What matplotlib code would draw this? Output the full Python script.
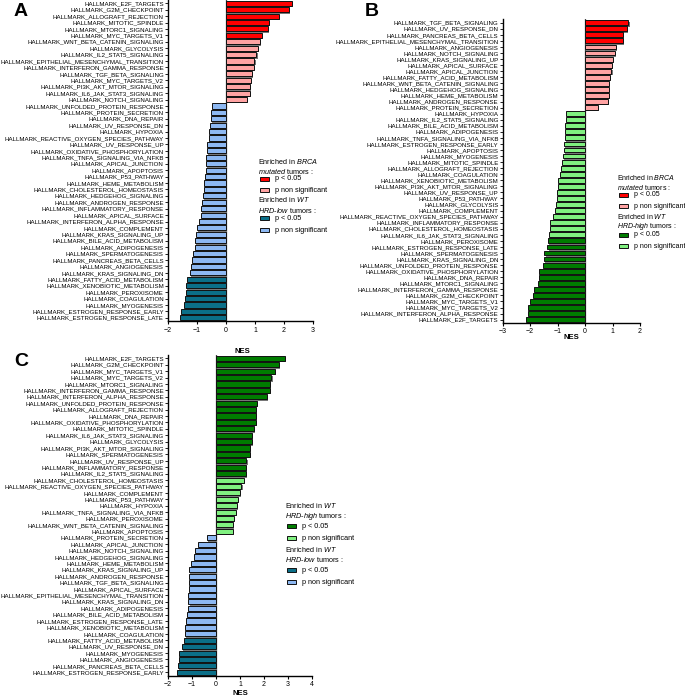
import matplotlib
matplotlib.use("Agg")
import matplotlib.pyplot as plt
import matplotlib.patheffects as pe
from matplotlib.patches import Rectangle

plt.rcParams['font.family'] = ['Liberation Sans', 'DejaVu Sans']
plt.rcParams['mathtext.fontset'] = 'custom'
plt.rcParams['mathtext.rm'] = 'Liberation Sans'
plt.rcParams['mathtext.it'] = 'Liberation Sans:italic'
plt.rcParams['mathtext.bf'] = 'Liberation Sans:bold'

# ---- data (NES values) ----
a_terms = ["E2F_TARGETS", "G2M_CHECKPOINT", "ALLOGRAFT_REJECTION", "MITOTIC_SPINDLE",
           "MTORC1_SIGNALING", "MYC_TARGETS_V1", "WNT_BETA_CATENIN_SIGNALING", "GLYCOLYSIS",
           "IL2_STAT5_SIGNALING", "EPITHELIAL_MESENCHYMAL_TRANSITION", "INTERFERON_GAMMA_RESPONSE",
           "TGF_BETA_SIGNALING", "MYC_TARGETS_V2", "PI3K_AKT_MTOR_SIGNALING", "IL6_JAK_STAT3_SIGNALING",
           "NOTCH_SIGNALING", "UNFOLDED_PROTEIN_RESPONSE", "PROTEIN_SECRETION", "DNA_REPAIR",
           "UV_RESPONSE_DN", "HYPOXIA", "REACTIVE_OXYGEN_SPECIES_PATHWAY", "UV_RESPONSE_UP",
           "OXIDATIVE_PHOSPHORYLATION", "TNFA_SIGNALING_VIA_NFKB", "APICAL_JUNCTION", "APOPTOSIS",
           "P53_PATHWAY", "HEME_METABOLISM", "CHOLESTEROL_HOMEOSTASIS", "HEDGEHOG_SIGNALING",
           "ANDROGEN_RESPONSE", "INFLAMMATORY_RESPONSE", "APICAL_SURFACE", "INTERFERON_ALPHA_RESPONSE",
           "COMPLEMENT", "KRAS_SIGNALING_UP", "BILE_ACID_METABOLISM", "ADIPOGENESIS", "SPERMATOGENESIS",
           "PANCREAS_BETA_CELLS", "ANGIOGENESIS", "KRAS_SIGNALING_DN", "FATTY_ACID_METABOLISM",
           "XENOBIOTIC_METABOLISM", "PEROXISOME", "COAGULATION", "MYOGENESIS",
           "ESTROGEN_RESPONSE_EARLY", "ESTROGEN_RESPONSE_LATE"]
a_nes = [2.26, 2.16, 1.84, 1.47, 1.44, 1.25, 1.18, 1.10, 1.05, 0.98, 0.95, 0.88, 0.85, 0.83, 0.84,
         0.72, -0.47, -0.51, -0.52, -0.56, -0.57, -0.58, -0.66, -0.67, -0.68, -0.69, -0.70, -0.72,
         -0.75, -0.77, -0.79, -0.83, -0.85, -0.86, -0.93, -0.99, -1.04, -1.06, -1.07, -1.15, -1.17,
         -1.22, -1.25, -1.35, -1.38, -1.39, -1.40, -1.44, -1.55, -1.59]
a_sig_top, a_sig_bottom = 6, 7

b_terms = ["TGF_BETA_SIGNALING", "UV_RESPONSE_DN", "PANCREAS_BETA_CELLS",
           "EPITHELIAL_MESENCHYMAL_TRANSITION", "ANGIOGENESIS", "NOTCH_SIGNALING", "KRAS_SIGNALING_UP",
           "APICAL_SURFACE", "APICAL_JUNCTION", "FATTY_ACID_METABOLISM", "WNT_BETA_CATENIN_SIGNALING",
           "HEDGEHOG_SIGNALING", "HEME_METABOLISM", "ANDROGEN_RESPONSE", "PROTEIN_SECRETION", "HYPOXIA",
           "IL2_STAT5_SIGNALING", "BILE_ACID_METABOLISM", "ADIPOGENESIS", "TNFA_SIGNALING_VIA_NFKB",
           "ESTROGEN_RESPONSE_EARLY", "APOPTOSIS", "MYOGENESIS", "MITOTIC_SPINDLE", "ALLOGRAFT_REJECTION",
           "COAGULATION", "XENOBIOTIC_METABOLISM", "PI3K_AKT_MTOR_SIGNALING", "UV_RESPONSE_UP",
           "P53_PATHWAY", "GLYCOLYSIS", "COMPLEMENT", "REACTIVE_OXYGEN_SPECIES_PATHWAY",
           "INFLAMMATORY_RESPONSE", "CHOLESTEROL_HOMEOSTASIS", "IL6_JAK_STAT3_SIGNALING", "PEROXISOME",
           "ESTROGEN_RESPONSE_LATE", "SPERMATOGENESIS", "KRAS_SIGNALING_DN", "UNFOLDED_PROTEIN_RESPONSE",
           "OXIDATIVE_PHOSPHORYLATION", "DNA_REPAIR", "MTORC1_SIGNALING", "INTERFERON_GAMMA_RESPONSE",
           "G2M_CHECKPOINT", "MYC_TARGETS_V1", "MYC_TARGETS_V2", "INTERFERON_ALPHA_RESPONSE",
           "E2F_TARGETS"]
b_nes = [1.58, 1.54, 1.37, 1.37, 1.14, 1.10, 1.01, 0.98, 0.96, 0.90, 0.88, 0.87, 0.86, 0.82, 0.47,
         -0.69, -0.70, -0.73, -0.74, -0.74, -0.76, -0.78, -0.80, -0.84, -0.88, -0.92, -0.99, -1.00,
         -1.02, -1.03, -1.05, -1.09, -1.18, -1.26, -1.27, -1.30, -1.35, -1.37, -1.48, -1.50, -1.55,
         -1.67, -1.68, -1.72, -1.86, -1.91, -1.99, -2.07, -2.09, -2.15]
b_sig_top, b_sig_bottom = 4, 14

c_terms = ["E2F_TARGETS", "G2M_CHECKPOINT", "MYC_TARGETS_V1", "MYC_TARGETS_V2", "MTORC1_SIGNALING",
           "INTERFERON_GAMMA_RESPONSE", "INTERFERON_ALPHA_RESPONSE", "UNFOLDED_PROTEIN_RESPONSE",
           "ALLOGRAFT_REJECTION", "DNA_REPAIR", "OXIDATIVE_PHOSPHORYLATION", "MITOTIC_SPINDLE",
           "IL6_JAK_STAT3_SIGNALING", "GLYCOLYSIS", "PI3K_AKT_MTOR_SIGNALING", "SPERMATOGENESIS",
           "UV_RESPONSE_UP", "INFLAMMATORY_RESPONSE", "IL2_STAT5_SIGNALING", "CHOLESTEROL_HOMEOSTASIS",
           "REACTIVE_OXYGEN_SPECIES_PATHWAY", "COMPLEMENT", "P53_PATHWAY", "HYPOXIA",
           "TNFA_SIGNALING_VIA_NFKB", "PEROXISOME", "WNT_BETA_CATENIN_SIGNALING", "APOPTOSIS",
           "PROTEIN_SECRETION", "APICAL_JUNCTION", "NOTCH_SIGNALING", "HEDGEHOG_SIGNALING",
           "HEME_METABOLISM", "KRAS_SIGNALING_UP", "ANDROGEN_RESPONSE", "TGF_BETA_SIGNALING",
           "APICAL_SURFACE", "EPITHELIAL_MESENCHYMAL_TRANSITION", "KRAS_SIGNALING_DN", "ADIPOGENESIS",
           "BILE_ACID_METABOLISM", "ESTROGEN_RESPONSE_LATE", "XENOBIOTIC_METABOLISM", "COAGULATION",
           "FATTY_ACID_METABOLISM", "UV_RESPONSE_DN", "MYOGENESIS", "ANGIOGENESIS",
           "PANCREAS_BETA_CELLS", "ESTROGEN_RESPONSE_EARLY"]
c_nes = [2.89, 2.61, 2.45, 2.31, 2.24, 2.24, 2.13, 1.71, 1.68, 1.68, 1.68, 1.58, 1.50, 1.50, 1.43,
         1.43, 1.27, 1.26, 1.25, 1.18, 1.06, 0.98, 0.91, 0.88, 0.82, 0.76, 0.72, 0.72,
         -0.36, -0.75, -0.89, -0.91, -1.04, -1.11, -1.11, -1.12, -1.12, -1.15, -1.15, -1.17, -1.19,
         -1.26, -1.28, -1.28, -1.35, -1.43, -1.54, -1.54, -1.57, -1.63]
c_sig_top, c_sig_bottom = 19, 6

RED, PINK = '#ff0000', '#ffa3a3'
TEAL, BLUE = '#0b6f88', '#8db8f2'
DGREEN, LGREEN = '#007c00', '#80f080'

fig = plt.figure(figsize=(6.85, 6.98), dpi=100)
W, H = 685, 698


def panel(rect, terms, nes, n_top, n_bot, cols, xlim, xticks):
    ax = fig.add_axes(rect)
    n = len(nes)
    colors = []
    for i, v in enumerate(nes):
        if v > 0:
            colors.append(cols[0] if i < n_top else cols[1])
        else:
            colors.append(cols[2] if i >= n - n_bot else cols[3])
    bars = ax.barh(range(n), nes, height=0.8, color=colors, edgecolor='#111', linewidth=0.7, zorder=3)
    for b in bars:
        b.set_path_effects([pe.SimplePatchShadow(offset=(0.8, -1.0), shadow_rgbFace='#777', alpha=1),
                            pe.Normal()])
    ax.axvline(0, color='#444', lw=0.9, zorder=2)
    ax.set_yticks(range(n))
    ax.set_yticklabels(['HALLMARK_' + t for t in terms], fontsize=4.4)
    ax.set_ylim(n - 0.5, -0.6)
    ax.set_xlim(*xlim)
    ax.set_xticks(xticks)
    ax.tick_params(axis='x', labelsize=5, length=2.5, width=0.8, pad=1.5)
    ax.tick_params(axis='y', length=2, width=0.6, pad=1)
    for s in ['top', 'right']:
        ax.spines[s].set_visible(False)
    for s in ['left', 'bottom']:
        ax.spines[s].set_linewidth(1.0)
    return ax


def legend_block(line1, line2, hc, x, ys, fs=5.2):
    # ys: pixel rows of title line 1, title line 2, item 1, item 2
    fig.text(x / W, 1 - ys[0] / H, line1, fontsize=fs, va='center', ha='left')
    fig.text(x / W, 1 - ys[1] / H, line2, fontsize=fs, va='center', ha='left')
    for c, lab, yy in zip(hc, ['p < 0.05', 'p non significant'], ys[2:]):
        fig.patches.append(Rectangle(((x + 2) / W, 1 - (yy + 2.2) / H), 9 / W, 4.4 / H,
                                     transform=fig.transFigure, facecolor=c, edgecolor='#111',
                                     linewidth=0.7))
        fig.text((x + 17) / W, 1 - yy / H, lab, fontsize=fs, va='center', ha='left')


# Panel A
ax_a = panel([168 / W, 1 - 321 / H, 145 / W, 321.6 / H], a_terms, a_nes, a_sig_top, a_sig_bottom,
             [RED, PINK, TEAL, BLUE], (-2, 3), [-2, -1, 0, 1, 2, 3])
ax_a.set_xlabel('NES', fontsize=5.5, fontweight='bold')
ax_a.xaxis.set_label_coords(0.51, -0.085)

# Panel B
ax_b = panel([502.7 / W, 1 - 322.7 / H, 137.3 / W, 303.6 / H], b_terms, b_nes, b_sig_top, b_sig_bottom,
             [RED, PINK, DGREEN, LGREEN], (-3, 2), [-3, -2, -1, 0, 1, 2])
ax_b.set_xlabel('NES', fontsize=5.5, fontweight='bold')
ax_b.xaxis.set_label_coords(0.5, -0.037)

# Panel C
ax_c = panel([168 / W, 1 - 675.5 / H, 144 / W, 321 / H], c_terms, c_nes, c_sig_top, c_sig_bottom,
             [DGREEN, LGREEN, TEAL, BLUE], (-2, 4), [-2, -1, 0, 1, 2, 3, 4])
ax_c.set_xlabel('NES', fontsize=5.5, fontweight='bold')
ax_c.xaxis.set_label_coords(0.5, -0.046)

legend_block('Enriched in $\\it{BRCA}$', '$\\it{mutated}$ tumors :', [RED, PINK], 258, [161, 171, 179, 190])
legend_block('Enriched in $\\it{WT}$', '$\\it{HRD}$-$\\it{low}$ tumors :', [TEAL, BLUE], 258, [200, 210, 218, 230])
legend_block('Enriched in $\\it{BRCA}$', '$\\it{mutated}$ tumors :', [RED, PINK], 617, [178, 187, 195, 206], fs=5.0)
legend_block('Enriched in $\\it{WT}$', '$\\it{HRD}$-$\\it{high}$ tumors :', [DGREEN, LGREEN], 617, [217, 226, 235, 246], fs=5.0)
legend_block('Enriched in $\\it{WT}$', '$\\it{HRD}$-$\\it{high}$ tumors :', [DGREEN, LGREEN], 285, [505, 516, 526, 538])
legend_block('Enriched in $\\it{WT}$', '$\\it{HRD}$-$\\it{low}$ tumors :', [TEAL, BLUE], 285, [550, 560, 570, 582])

fig.text(14 / W, 1 - 11 / H, 'A', fontsize=14, fontweight='bold', va='center')
fig.text(365 / W, 1 - 12 / H, 'B', fontsize=14, fontweight='bold', va='center')
fig.text(14 / W, 1 - 362 / H, 'C', fontsize=14, fontweight='bold', va='center')

fig.savefig('out.png', dpi=100)
